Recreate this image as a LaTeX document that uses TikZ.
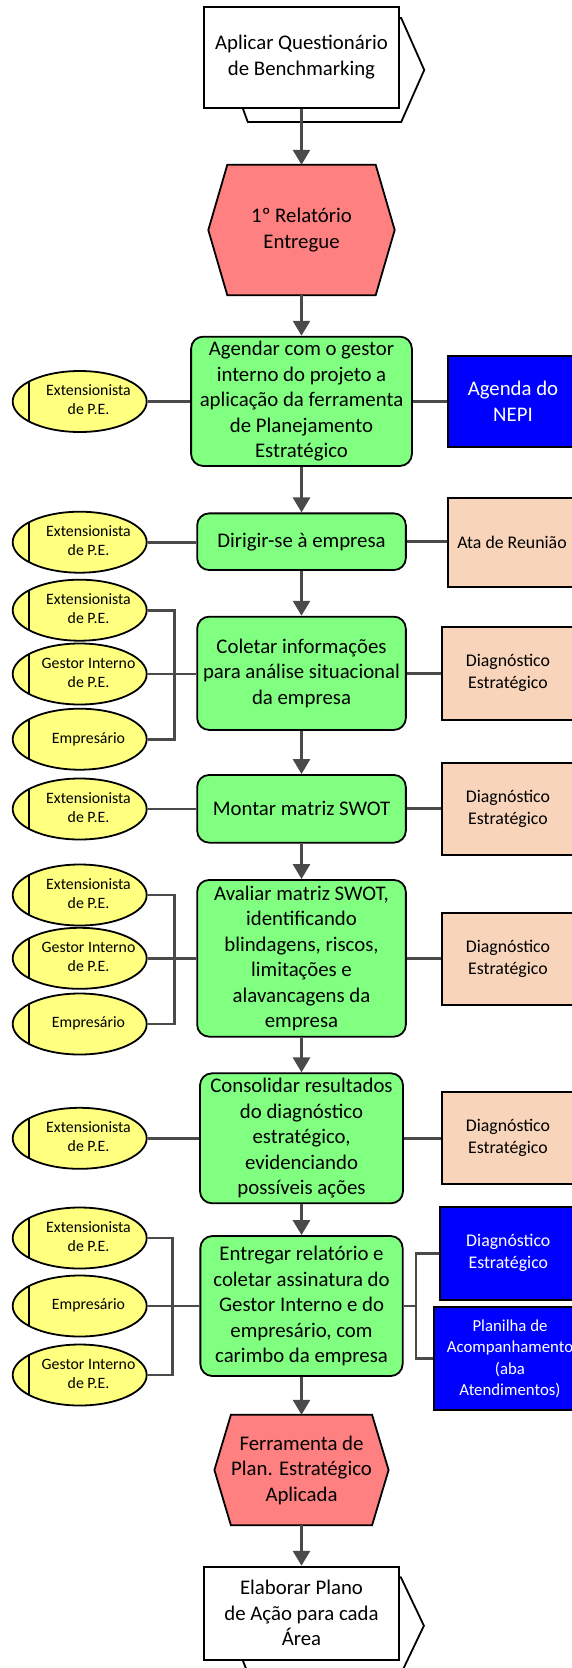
\documentclass[tikz,border=0pt]{standalone}
\usepackage{fontspec}
\setmainfont{Carlito}
\usetikzlibrary{arrows.meta,shapes.geometric,backgrounds}

\definecolor{flowgray}{HTML}{4A4A4A}
\definecolor{taskgreen}{HTML}{80FF80}
\definecolor{eventred}{HTML}{FF8080}
\definecolor{roleyellow}{HTML}{FFFF80}
\definecolor{docpeach}{HTML}{F8D4BA}
\definecolor{outblue}{HTML}{0000FF}

% text of an organisational unit, shifted right of the bar inside the ellipse;
% the zero-width box keeps the ellipse at its minimum size
\newcommand{\rolelabel}[1]{\hspace*{17.6pt}\makebox[0pt]{\raisebox{-3pt}{\begin{tabular}{@{}c@{}}#1\end{tabular}}}}

\begin{document}
\begin{tikzpicture}[x=1pt,y=-1pt,
  base/.style={draw=black, line width=1.8pt, inner sep=0pt, align=center},
  bigtext/.style={font=\fontsize{20.8}{25.5}\selectfont},
  task/.style={base, bigtext, fill=taskgreen, rounded corners=12pt},
  event/.style={inner sep=0pt, align=center, bigtext},
  iface/.style={base, bigtext, fill=white},
  role/.style={ellipse, draw=black, line width=1.8pt, fill=roleyellow,
    inner sep=0pt, minimum width=134pt, minimum height=61pt,
    font=\fontsize{15.8}{19}\selectfont,
    path picture={\draw[line width=1.8pt]
      ([xshift=-50.7pt]path picture bounding box.center) ++(0,-40) -- ++(0,80);}},
  docbox/.style={base, fill=docpeach, font=\fontsize{17.8}{22}\selectfont},
  outbox/.style={base, fill=outblue, text=white},
  hexshape/.style={fill=eventred, draw=black, line width=1.8pt, line join=miter},
  ifaceback/.style={fill=white, draw=black, line width=1.8pt, line join=miter},
  conn/.style={draw=flowgray, line width=2.8pt},
  flow/.style={conn, -{Triangle[length=15pt,width=17pt]}}
]
\useasboundingbox (0,0) rectangle (572,1668);
\clip (0,0) rectangle (572,1668);

% ---------- main column ----------
\node[iface, minimum width=195.7pt, minimum height=101pt] (p1) at (301.5,57.2)
  {Aplicar Questionário\\de Benchmarking};
\node[event, minimum width=148pt, minimum height=130pt] (h1) at (301.5,230)
  {1º Relatório\\Entregue};
\node[task, minimum width=220.8pt, minimum height=129.3pt] (A) at (301.5,401.3)
  {Agendar com o gestor\\interno do projeto a\\aplicação da ferramenta\\de Planejamento\\Estratégico};
\node[task, minimum width=208.7pt, minimum height=56.7pt] (B) at (301.5,541.7)
  {Dirigir-se à empresa};
\node[task, minimum width=208.7pt, minimum height=113.3pt] (C) at (301.5,673.3)
  {Coletar informações\\para análise situacional\\da empresa};
\node[task, minimum width=208.7pt, minimum height=67.7pt] (D) at (301.5,808.8)
  {Montar matriz SWOT};
\node[task, minimum width=208.7pt, minimum height=156.7pt] (E) at (301.5,958.3)
  {Avaliar matriz SWOT,\\identificando\\blindagens, riscos,\\limitações e\\alavancagens da\\empresa};
\node[task, minimum width=203pt, minimum height=130pt] (F) at (301.5,1138.3)
  {Consolidar resultados\\do diagnóstico\\estratégico,\\evidenciando\\possíveis ações};
\node[task, minimum width=202.3pt, minimum height=140pt] (G) at (301.5,1306)
  {Entregar relatório e\\coletar assinatura do\\Gestor Interno e do\\empresário, com\\carimbo da empresa};
\node[event, minimum width=125pt, minimum height=110pt] (h2) at (301.5,1470)
  {Ferramenta de\\Plan. Estratégico\\Aplicada};
\node[iface, minimum width=195pt, minimum height=93.3pt] (p2) at (301.5,1613.3)
  {Elaborar Plano\\de Ação para cada\\Área};

% ---------- roles ----------
\node[role] (a1) at (79.7,401.5) {\rolelabel{Extensionista\\de P.E.}};
\node[role] (b1) at (79.7,542.2) {\rolelabel{Extensionista\\de P.E.}};
\node[role] (c1) at (79.7,610.2) {\rolelabel{Extensionista\\de P.E.}};
\node[role] (c2) at (79.7,674) {\rolelabel{Gestor Interno\\de P.E.}};
\node[role] (c3) at (79.7,739.2) {\rolelabel{Empresário}};
\node[role] (d1) at (79.7,809) {\rolelabel{Extensionista\\de P.E.}};
\node[role] (e1) at (79.7,895) {\rolelabel{Extensionista\\de P.E.}};
\node[role] (e2) at (79.7,958.3) {\rolelabel{Gestor Interno\\de P.E.}};
\node[role] (e3) at (79.7,1024) {\rolelabel{Empresário}};
\node[role] (f1) at (79.7,1138.3) {\rolelabel{Extensionista\\de P.E.}};
\node[role] (g1) at (79.7,1238) {\rolelabel{Extensionista\\de P.E.}};
\node[role] (g2) at (79.7,1306) {\rolelabel{Empresário}};
\node[role] (g3) at (79.7,1375) {\rolelabel{Gestor Interno\\de P.E.}};

% ---------- documents and outputs ----------
\node[outbox, bigtext, minimum width=130pt, minimum height=91pt] (a2) at (513,401.5)
  {Agenda do\\NEPI};
\node[docbox, minimum width=127.3pt, minimum height=88.4pt] (b2) at (512,542.5)
  {Ata de Reunião};
\node[docbox, minimum width=132.3pt, minimum height=93.3pt] (c4) at (507.9,673.3)
  {Diagnóstico\\Estratégico};
\node[docbox, minimum width=132.3pt, minimum height=92.3pt] (d2) at (507.9,808.8)
  {Diagnóstico\\Estratégico};
\node[docbox, minimum width=132.3pt, minimum height=92.3pt] (e4) at (507.9,958.8)
  {Diagnóstico\\Estratégico};
\node[docbox, minimum width=132.3pt, minimum height=92pt] (f2) at (507.9,1138.3)
  {Diagnóstico\\Estratégico};
\node[outbox, font=\fontsize{17.8}{22}\selectfont, minimum width=136.6pt, minimum height=93.3pt] (g4) at (508.3,1253.3)
  {Diagnóstico\\Estratégico};
\node[outbox, font=\fontsize{16.8}{21.3}\selectfont, minimum width=152pt, minimum height=102.7pt] (g5) at (510,1358.7)
  {Planilha de\\Acompanhamento\\(aba\\Atendimentos)};

% ---------- event hexagons and interface back plates ----------
\begin{scope}[on background layer]
  \filldraw[hexshape] (h1.north west) -- (h1.north east) -- ([xshift=19pt]h1.east)
    -- (h1.south east) -- (h1.south west) -- ([xshift=-19pt]h1.west) -- cycle;
  \filldraw[hexshape] (h2.north west) -- (h2.north east) -- ([xshift=16.5pt]h2.east)
    -- (h2.south east) -- (h2.south west) -- ([xshift=-16.5pt]h2.west) -- cycle;
  \filldraw[ifaceback] ([shift={(45,12.3)}]p1.north west) -- ([shift={(1,12.3)}]p1.north east)
    -- ([shift={(24,12.8)}]p1.east) -- ([shift={(1,13.3)}]p1.south east)
    -- ([shift={(45,13.3)}]p1.south west) -- ([shift={(26,12.8)}]p1.west) -- cycle;
  \filldraw[ifaceback] ([shift={(45,11.6)}]p2.north west) -- ([shift={(1,11.6)}]p2.north east)
    -- ([shift={(24,12.4)}]p2.east) -- ([shift={(1,13)}]p2.south east)
    -- ([shift={(45,13)}]p2.south west) -- ([shift={(26,12.4)}]p2.west) -- cycle;
\end{scope}

% ---------- control flow ----------
\draw[flow] (p1) -- (h1);
\draw[flow] (h1) -- (A);
\draw[flow] (A) -- (B);
\draw[flow] (B) -- (C);
\draw[flow] (C) -- (D);
\draw[flow] (D) -- (E);
\draw[flow] (E) -- (F);
\draw[flow] (F) -- (G);
\draw[flow] (G) -- (h2);
\draw[flow] (h2) -- (p2);

% ---------- role and document links ----------
\coordinate (lbus) at (174.4,0);
\coordinate (lbusg) at (172.2,0);
\coordinate (rbusg) at (416,0);

\draw[conn] (a1.east) -- (a1.east -| A.west);
\draw[conn] (A.east) -- (A.east -| a2.west);

\draw[conn] (b1.east) -- (b1.east -| B.west);
\draw[conn] (B.east) -- (B.east -| b2.west);

\draw[conn] (c1.east) -- (c1.east -| lbus) -- (c3.east -| lbus) -- (c3.east);
\draw[conn] (c2.east) -- (c2.east -| C.west);
\draw[conn] (C.east) -- (C.east -| c4.west);

\draw[conn] (d1.east) -- (d1.east -| D.west);
\draw[conn] (D.east) -- (D.east -| d2.west);

\draw[conn] (e1.east) -- (e1.east -| lbus) -- (e3.east -| lbus) -- (e3.east);
\draw[conn] (e2.east) -- (e2.east -| E.west);
\draw[conn] (E.east) -- (E.east -| e4.west);

\draw[conn] (f1.east) -- (f1.east -| F.west);
\draw[conn] (F.east) -- (F.east -| f2.west);

\draw[conn] (g1.east) -- (g1.east -| lbusg) -- (g3.east -| lbusg) -- (g3.east);
\draw[conn] (g2.east) -- (g2.east -| G.west);
\draw[conn] (G.east) -- (G.east -| rbusg);
\draw[conn] (g4.west) -- (g4.west -| rbusg) -- (g5.west -| rbusg) -- (g5.west);
\end{tikzpicture}
\end{document}
